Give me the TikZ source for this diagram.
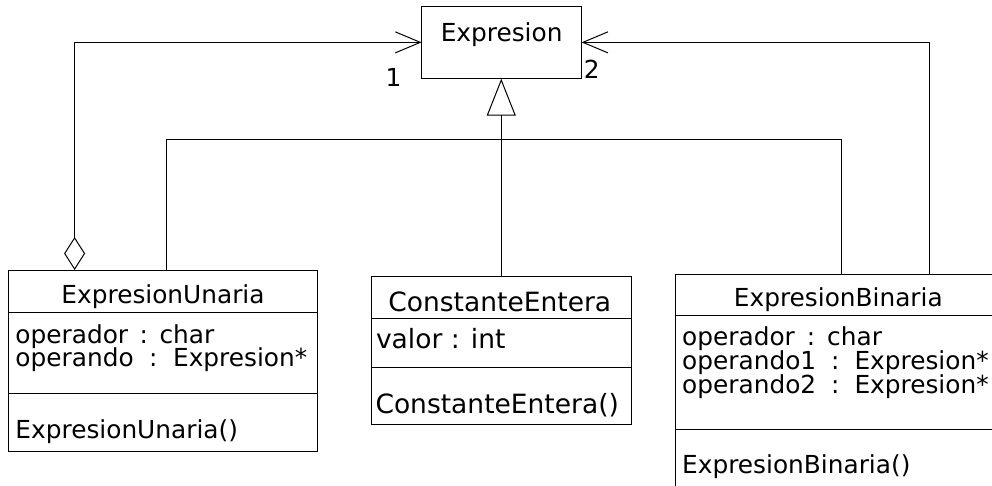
\documentclass[tikz,border=0pt]{standalone}
\usepackage{fontspec}
\setmainfont{DejaVu Sans}
\usetikzlibrary{arrows.meta}
\newcommand\colsep[1]{\hspace{#1}:\hspace{#1}}
\begin{document}
\begin{tikzpicture}[x=1pt,y=-1pt,
  font=\fontsize{24.8}{28}\selectfont,
  line width=1pt,
  classbox/.style={draw, rectangle, inner sep=0pt, outer sep=0pt, anchor=north west},
  txt/.style={inner sep=0pt, anchor=base west},
  title/.style={inner sep=0pt, anchor=base},
  bigtxt/.style={font=\fontsize{26.5}{30}\selectfont},
  barb/.tip={Straight Barb[length=25pt,width=21pt]},
  assoc/.style={-barb},
  aggr/.style={{Diamond[open,length=33pt,width=21pt]}-barb},
  gen/.style={-{Triangle[open,length=37pt,width=29pt]}},
]
\useasboundingbox (0,0) rectangle (992,485);

% Expresion
\node[classbox, minimum width=160pt, minimum height=72.7pt] (expr) at (421.6,6) {};
\node[title] (exprname) at (501.6,41.7) {Expresion};

% ExpresionUnaria
\node[classbox, minimum width=308.6pt, minimum height=181pt] (unaria) at (8.7,270) {};
\draw ([yshift=-42.3pt]unaria.north west) -- ([yshift=-42.3pt]unaria.north east);
\draw ([yshift=-123.3pt]unaria.north west) -- ([yshift=-123.3pt]unaria.north east);
\node[title] (unarianame) at (163,303.3) {ExpresionUnaria};
\node[txt] (unariaa1) at (15,343.3) {operador\colsep{11.5pt}char};
\node[txt] (unariaa2) at (15,366.7) {operando\colsep{15.5pt}Expresion*};
\node[txt] (unariam1) at (15,438.3) {ExpresionUnaria()};

% ConstanteEntera
\node[classbox, minimum width=260.5pt, minimum height=148.5pt] (const) at (371,276) {};
\draw ([yshift=-42.3pt]const.north west) -- ([yshift=-42.3pt]const.north east);
\draw ([yshift=-91.3pt]const.north west) -- ([yshift=-91.3pt]const.north east);
\node[title, bigtxt] (constname) at (499.8,311.5) {ConstanteEntera};
\node[txt, bigtxt] (consta1) at (375.5,348.5) {valor : int};
\node[txt, bigtxt] (constm1) at (375,413) {ConstanteEntera()};

% ExpresionBinaria
\node[classbox, minimum width=326.6pt, minimum height=221pt] (bin) at (675,274) {};
\draw ([yshift=-41.7pt]bin.north west) -- ([yshift=-41.7pt]bin.north east);
\draw ([yshift=-155.3pt]bin.north west) -- ([yshift=-155.3pt]bin.north east);
\node[title] (binname) at (838.3,306.7) {ExpresionBinaria};
\node[txt] (bina1) at (681.7,345) {operador\colsep{12pt}char};
\node[txt] (bina2) at (681.7,369.5) {operando1\colsep{15pt}Expresion*};
\node[txt] (bina3) at (681.7,393.5) {operando2\colsep{15pt}Expresion*};
\node[txt] (binm1) at (681.7,473.3) {ExpresionBinaria()};

% multiplicities
\node[title] (m1) at (393.5,86.7) {1};
\node[title] (m2) at (591.8,78.3) {2};

% connectors
\draw[aggr] ([xshift=65.9pt]unaria.north west) |- (expr.west);
\draw[assoc] ([xshift=254.5pt]bin.north west) |- (expr.east);
\draw[gen] (const.north) -- (const.north |- expr.south);
\coordinate (junc) at (501.25,139.3);
\draw ([xshift=158pt]unaria.north west) |- (junc) -| ([xshift=166.5pt]bin.north west);
\end{tikzpicture}
\end{document}
